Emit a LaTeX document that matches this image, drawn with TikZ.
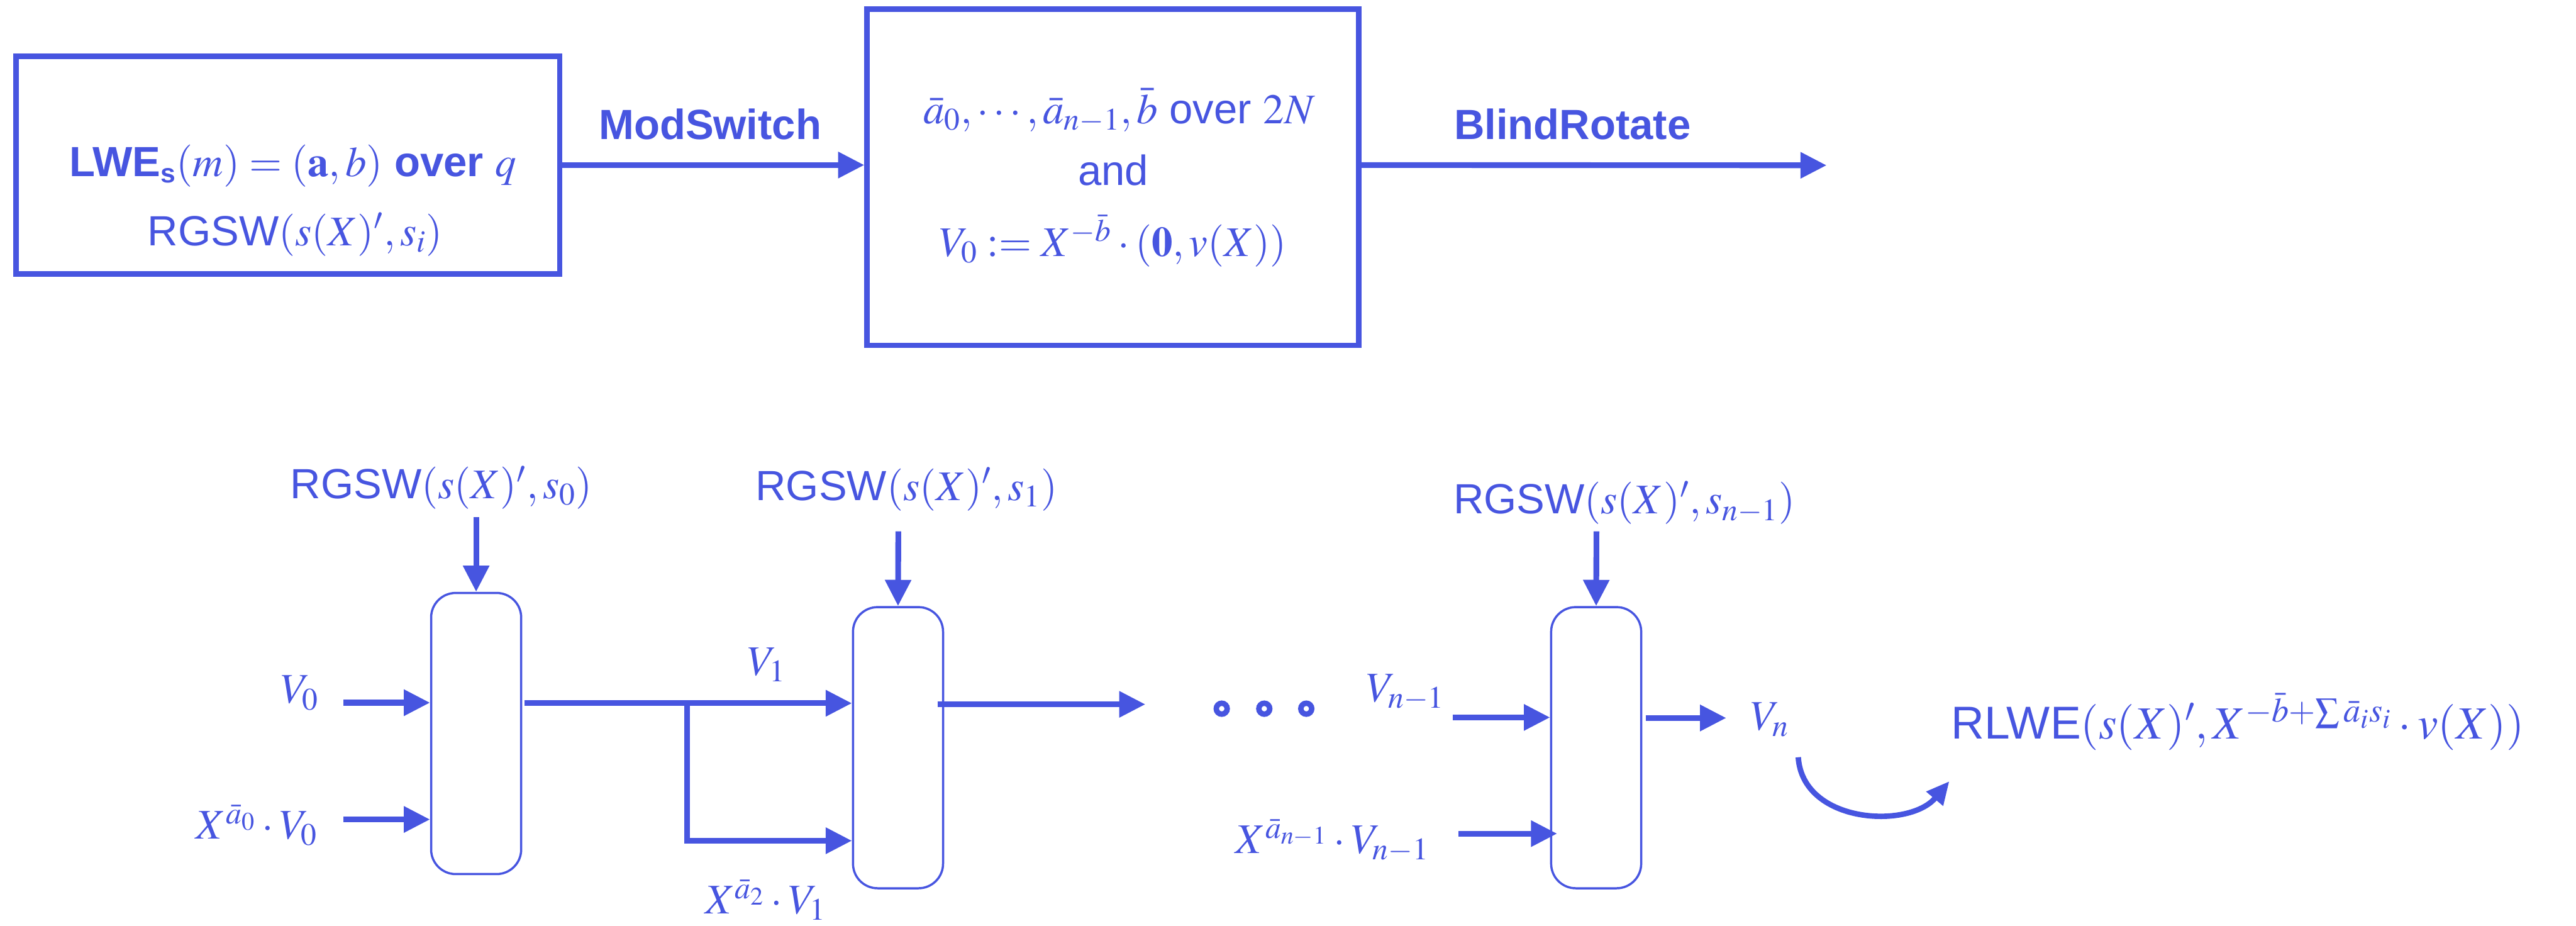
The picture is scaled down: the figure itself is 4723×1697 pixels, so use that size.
\documentclass[tikz,border=0pt]{standalone}
\usepackage{mathptmx}
\usepackage[no-math]{fontspec}
\setmainfont{Liberation Sans}
\usetikzlibrary{arrows.meta}
\definecolor{bl}{RGB}{71,85,224}
\newcommand\myfs{\fontsize{22pt}{26pt}\selectfont}
\newcommand\myfsb{\fontsize{24pt}{29pt}\selectfont}
\newcommand\mysub{\fontsize{14pt}{16pt}\selectfont\bfseries}
\begin{document}
\begin{tikzpicture}[x=0.01cm,y=-0.01cm,
  every node/.style={text=bl, font=\myfs, inner sep=0pt},
  bigbox/.style={draw=bl, line width=0.1cm},
  gate/.style={draw=bl, line width=0.04cm, rounded corners=0.45cm, minimum width=1.65cm, minimum height=5.15cm},
  arr/.style={draw=bl, line width=0.105cm, -{Triangle[length=0.48cm,width=0.46cm]}},
  ring/.style={circle, draw=bl, line width=0.1cm, minimum size=0.2cm},
  lbl/.style={anchor=base}]
\useasboundingbox (0,0) rectangle (4723,1697);
% top row
\node[bigbox, minimum width=9.96cm, minimum height=3.99cm] (b1) at (528,302.5) {};
\node[bigbox, minimum width=9.01cm, minimum height=6.16cm] (b2) at (2040.5,325) {};
\node[lbl] (t1) at (537,323) {\textbf{LWE}$_{\hbox{\mysub s}}(m)=(\mathbf{a},b)$ \textbf{over} $q$};
\node[lbl] (t2) at (541,450) {RGSW$(s(X)',s_i)$};
\node[lbl] (t3) at (2052,227) {$\bar a_0,\cdots,\bar a_{n-1},\bar b$ over $2N$};
\node[lbl] (t4) at (2041,340) {and};
\node[lbl] (t5) at (2041,470) {$V_0:=X^{-\bar b}\cdot(\mathbf{0},v(X))$};
\node[lbl, font=\myfs\bfseries] (ms) at (1302,255) {ModSwitch};
\node[lbl, font=\myfs\bfseries] (br) at (2883,255) {BlindRotate};
\coordinate (e1) at (3349,303);
\draw[arr] (b1.east) -- (b1.east -| b2.west);
\draw[arr] (b1.east -| b2.east) -- (e1);
% gates
\node[gate] (gA) at (873,1344.5) {};
\node[gate] (gB) at (1646.5,1370.5) {};
\node[gate] (gC) at (2926.5,1370.5) {};
\node[lbl] (rA) at (809,914) {RGSW$(s(X)',s_0)$};
\node[lbl] (rB) at (1662,917) {RGSW$(s(X)',s_1)$};
\node[lbl] (rC) at (2978,942) {RGSW$(s(X)',s_{n-1})$};
\coordinate (vA) at (873,948);
\coordinate (vB) at (1647,974);
\coordinate (vC) at (2927,974);
\draw[arr] (vA) -- (gA.north);
\draw[arr] (vB) -- (gB.north);
\draw[arr] (vC) -- (gC.north);
% gate A inputs
\node[lbl] (lv0) at (550,1289) {$V_0$};
\node[lbl] (lx0) at (471,1538) {$X^{\bar a_0}\cdot V_0$};
\coordinate (a1) at (630,1288);
\coordinate (a2) at (630,1502);
\draw[arr] (a1) -- (a1 -| gA.west);
\draw[arr] (a2) -- (a2 -| gA.west);
% gate A output / gate B inputs
\coordinate (oA) at (962,1289);
\coordinate (bp) at (1260,1289);
\coordinate (bl2) at (1260,1541);
\draw[arr] (oA) -- (oA -| gB.west);
\draw[arr] (bp) -- (bl2) -- (bl2 -| gB.west);
\node[lbl] (lv1) at (1406,1238) {$V_1$};
\node[lbl] (lx2) at (1404,1675) {$X^{\bar a_2}\cdot V_1$};
% gate B output
\coordinate (oB) at (1719,1291);
\coordinate (eB) at (2100,1291);
\draw[arr] (oB) -- (eB);
\node[ring] (d1) at (2240,1299) {};
\node[ring] (d2) at (2318,1299) {};
\node[ring] (d3) at (2395,1299) {};
% gate C
\node[lbl] (lvn1) at (2577,1286) {$V_{n-1}$};
\node[lbl] (lxn1) at (2443,1564) {$X^{\bar a_{n-1}}\cdot V_{n-1}$};
\coordinate (c1) at (2664,1315);
\coordinate (c2) at (2674,1528);
\draw[arr] (c1) -- (c1 -| gC.west);
\draw[arr] (c2) -- ([xshift=0.13cm]c2 -| gC.west);
\coordinate (oC) at (3018,1316);
\coordinate (eC) at (3165,1316);
\draw[arr] (oC) -- (eC);
\node[lbl] (lvn) at (3245,1338) {$V_n$};
% final
\node[anchor=base west, font=\myfsb] (rl) at (3577,1354) {RLWE$(s(X)',X^{-\bar b+\sum\bar a_i s_i}\cdot v(X))$};
\coordinate (cs) at (3297,1388);
\coordinate (ce) at (3574,1432);
\draw[draw=bl, line width=0.1cm, -{Triangle[length=0.42cm,width=0.38cm]}] (cs) .. controls (3305,1510) and (3500,1520) .. (ce);
\end{tikzpicture}
\end{document}
